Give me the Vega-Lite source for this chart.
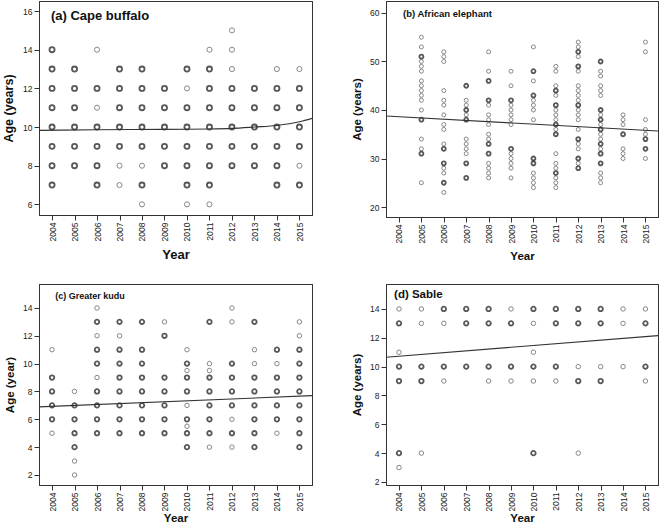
{
  "$schema": "https://vega.github.io/schema/vega-lite/v6.json",
  "padding": {"left": 2, "top": 0, "right": 0, "bottom": 0},
  "background": "white",
  "datasets": {
    "buffalo": [
      {"year": 2004, "age": 14, "n": 2}, {"year": 2004, "age": 13, "n": 2}, {"year": 2004, "age": 12, "n": 2}, {"year": 2004, "age": 11, "n": 2}, {"year": 2004, "age": 10, "n": 2}, {"year": 2004, "age": 9, "n": 2}, {"year": 2004, "age": 8, "n": 2}, {"year": 2004, "age": 7, "n": 2},
      {"year": 2005, "age": 13, "n": 2}, {"year": 2005, "age": 12, "n": 2}, {"year": 2005, "age": 11, "n": 2}, {"year": 2005, "age": 10, "n": 2}, {"year": 2005, "age": 9, "n": 2}, {"year": 2005, "age": 8, "n": 2},
      {"year": 2006, "age": 14, "n": 1}, {"year": 2006, "age": 12, "n": 2}, {"year": 2006, "age": 11, "n": 1}, {"year": 2006, "age": 10, "n": 2}, {"year": 2006, "age": 9, "n": 2}, {"year": 2006, "age": 8, "n": 2}, {"year": 2006, "age": 7, "n": 2},
      {"year": 2007, "age": 13, "n": 2}, {"year": 2007, "age": 12, "n": 2}, {"year": 2007, "age": 11, "n": 2}, {"year": 2007, "age": 10, "n": 2}, {"year": 2007, "age": 9, "n": 2}, {"year": 2007, "age": 8, "n": 1}, {"year": 2007, "age": 7, "n": 1},
      {"year": 2008, "age": 13, "n": 2}, {"year": 2008, "age": 12, "n": 2}, {"year": 2008, "age": 11, "n": 2}, {"year": 2008, "age": 10, "n": 2}, {"year": 2008, "age": 9, "n": 2}, {"year": 2008, "age": 8, "n": 1}, {"year": 2008, "age": 7, "n": 2}, {"year": 2008, "age": 6, "n": 1},
      {"year": 2009, "age": 12, "n": 2}, {"year": 2009, "age": 11, "n": 2}, {"year": 2009, "age": 10, "n": 2}, {"year": 2009, "age": 9, "n": 2}, {"year": 2009, "age": 8, "n": 2},
      {"year": 2010, "age": 13, "n": 2}, {"year": 2010, "age": 12, "n": 1}, {"year": 2010, "age": 11, "n": 2}, {"year": 2010, "age": 10, "n": 2}, {"year": 2010, "age": 9, "n": 2}, {"year": 2010, "age": 8, "n": 2}, {"year": 2010, "age": 7, "n": 2}, {"year": 2010, "age": 6, "n": 1},
      {"year": 2011, "age": 14, "n": 1}, {"year": 2011, "age": 13, "n": 2}, {"year": 2011, "age": 12, "n": 2}, {"year": 2011, "age": 11, "n": 2}, {"year": 2011, "age": 10, "n": 2}, {"year": 2011, "age": 9, "n": 2}, {"year": 2011, "age": 8, "n": 2}, {"year": 2011, "age": 7, "n": 2}, {"year": 2011, "age": 6, "n": 1},
      {"year": 2012, "age": 15, "n": 1}, {"year": 2012, "age": 14, "n": 1}, {"year": 2012, "age": 13, "n": 1}, {"year": 2012, "age": 12, "n": 2}, {"year": 2012, "age": 11, "n": 2}, {"year": 2012, "age": 10, "n": 2}, {"year": 2012, "age": 9, "n": 2}, {"year": 2012, "age": 8, "n": 2},
      {"year": 2013, "age": 12, "n": 2}, {"year": 2013, "age": 11, "n": 2}, {"year": 2013, "age": 10, "n": 2}, {"year": 2013, "age": 9, "n": 2}, {"year": 2013, "age": 8, "n": 2},
      {"year": 2014, "age": 13, "n": 1}, {"year": 2014, "age": 12, "n": 2}, {"year": 2014, "age": 11, "n": 2}, {"year": 2014, "age": 10, "n": 2}, {"year": 2014, "age": 9, "n": 2}, {"year": 2014, "age": 8, "n": 2}, {"year": 2014, "age": 7, "n": 2},
      {"year": 2015, "age": 13, "n": 1}, {"year": 2015, "age": 12, "n": 2}, {"year": 2015, "age": 11, "n": 2}, {"year": 2015, "age": 10, "n": 2}, {"year": 2015, "age": 9, "n": 2}, {"year": 2015, "age": 8, "n": 1}, {"year": 2015, "age": 7, "n": 2}
    ],
    "buffalo_fit": [
      {"year": 2003.42, "age": 9.83}, {"year": 2006, "age": 9.86}, {"year": 2009, "age": 9.88}, {"year": 2011, "age": 9.9},
      {"year": 2012, "age": 9.93}, {"year": 2013, "age": 10.0}, {"year": 2014, "age": 10.08}, {"year": 2015, "age": 10.27}, {"year": 2015.56, "age": 10.45}
    ],
    "elephant": [
      {"year": 2005, "age": 55, "n": 1}, {"year": 2005, "age": 53, "n": 1}, {"year": 2005, "age": 51, "n": 2}, {"year": 2005, "age": 50, "n": 1}, {"year": 2005, "age": 49, "n": 1}, {"year": 2005, "age": 48, "n": 1}, {"year": 2005, "age": 46, "n": 1}, {"year": 2005, "age": 45, "n": 1}, {"year": 2005, "age": 44, "n": 1}, {"year": 2005, "age": 43, "n": 1}, {"year": 2005, "age": 42, "n": 1}, {"year": 2005, "age": 40, "n": 1}, {"year": 2005, "age": 38, "n": 2}, {"year": 2005, "age": 34, "n": 1}, {"year": 2005, "age": 32, "n": 1}, {"year": 2005, "age": 31, "n": 2}, {"year": 2005, "age": 25, "n": 1},
      {"year": 2006, "age": 52, "n": 1}, {"year": 2006, "age": 51, "n": 1}, {"year": 2006, "age": 50, "n": 1}, {"year": 2006, "age": 44, "n": 1}, {"year": 2006, "age": 42, "n": 1}, {"year": 2006, "age": 41, "n": 1}, {"year": 2006, "age": 39, "n": 1}, {"year": 2006, "age": 37, "n": 1}, {"year": 2006, "age": 36, "n": 1}, {"year": 2006, "age": 33, "n": 1}, {"year": 2006, "age": 32, "n": 2}, {"year": 2006, "age": 29, "n": 2}, {"year": 2006, "age": 28, "n": 1}, {"year": 2006, "age": 27, "n": 1}, {"year": 2006, "age": 25, "n": 2}, {"year": 2006, "age": 23, "n": 1},
      {"year": 2007, "age": 45, "n": 2}, {"year": 2007, "age": 42, "n": 1}, {"year": 2007, "age": 41, "n": 1}, {"year": 2007, "age": 40, "n": 2}, {"year": 2007, "age": 39, "n": 1}, {"year": 2007, "age": 38, "n": 2}, {"year": 2007, "age": 34, "n": 1}, {"year": 2007, "age": 33, "n": 1}, {"year": 2007, "age": 32, "n": 1}, {"year": 2007, "age": 31, "n": 1}, {"year": 2007, "age": 29, "n": 2}, {"year": 2007, "age": 26, "n": 2},
      {"year": 2008, "age": 52, "n": 1}, {"year": 2008, "age": 48, "n": 1}, {"year": 2008, "age": 46, "n": 2}, {"year": 2008, "age": 42, "n": 2}, {"year": 2008, "age": 41, "n": 1}, {"year": 2008, "age": 39, "n": 1}, {"year": 2008, "age": 38, "n": 1}, {"year": 2008, "age": 37, "n": 1}, {"year": 2008, "age": 35, "n": 1}, {"year": 2008, "age": 34, "n": 1}, {"year": 2008, "age": 33, "n": 2}, {"year": 2008, "age": 31, "n": 2}, {"year": 2008, "age": 29, "n": 1}, {"year": 2008, "age": 28, "n": 1}, {"year": 2008, "age": 27, "n": 1}, {"year": 2008, "age": 26, "n": 1},
      {"year": 2009, "age": 48, "n": 1}, {"year": 2009, "age": 45, "n": 1}, {"year": 2009, "age": 42, "n": 2}, {"year": 2009, "age": 41, "n": 1}, {"year": 2009, "age": 40, "n": 1}, {"year": 2009, "age": 39, "n": 1}, {"year": 2009, "age": 38, "n": 1}, {"year": 2009, "age": 37, "n": 1}, {"year": 2009, "age": 32, "n": 2}, {"year": 2009, "age": 31, "n": 1}, {"year": 2009, "age": 30, "n": 1}, {"year": 2009, "age": 29, "n": 1}, {"year": 2009, "age": 28, "n": 1}, {"year": 2009, "age": 26, "n": 1},
      {"year": 2010, "age": 53, "n": 1}, {"year": 2010, "age": 48, "n": 2}, {"year": 2010, "age": 46, "n": 1}, {"year": 2010, "age": 43, "n": 2}, {"year": 2010, "age": 42, "n": 1}, {"year": 2010, "age": 41, "n": 1}, {"year": 2010, "age": 40, "n": 1}, {"year": 2010, "age": 38, "n": 1}, {"year": 2010, "age": 30, "n": 2}, {"year": 2010, "age": 29, "n": 2}, {"year": 2010, "age": 27, "n": 1}, {"year": 2010, "age": 26, "n": 1}, {"year": 2010, "age": 25, "n": 1}, {"year": 2010, "age": 24, "n": 1},
      {"year": 2011, "age": 49, "n": 1}, {"year": 2011, "age": 48, "n": 1}, {"year": 2011, "age": 45, "n": 1}, {"year": 2011, "age": 44, "n": 2}, {"year": 2011, "age": 43, "n": 1}, {"year": 2011, "age": 41, "n": 2}, {"year": 2011, "age": 40, "n": 1}, {"year": 2011, "age": 39, "n": 1}, {"year": 2011, "age": 38, "n": 1}, {"year": 2011, "age": 37, "n": 2}, {"year": 2011, "age": 36, "n": 1}, {"year": 2011, "age": 35, "n": 2}, {"year": 2011, "age": 31, "n": 1}, {"year": 2011, "age": 29, "n": 1}, {"year": 2011, "age": 28, "n": 1}, {"year": 2011, "age": 27, "n": 2}, {"year": 2011, "age": 26, "n": 1}, {"year": 2011, "age": 25, "n": 1}, {"year": 2011, "age": 24, "n": 1},
      {"year": 2012, "age": 54, "n": 1}, {"year": 2012, "age": 53, "n": 1}, {"year": 2012, "age": 52, "n": 2}, {"year": 2012, "age": 51, "n": 1}, {"year": 2012, "age": 49, "n": 2}, {"year": 2012, "age": 48, "n": 1}, {"year": 2012, "age": 45, "n": 1}, {"year": 2012, "age": 44, "n": 1}, {"year": 2012, "age": 43, "n": 1}, {"year": 2012, "age": 42, "n": 1}, {"year": 2012, "age": 41, "n": 2}, {"year": 2012, "age": 40, "n": 1}, {"year": 2012, "age": 39, "n": 1}, {"year": 2012, "age": 38, "n": 1}, {"year": 2012, "age": 36, "n": 1}, {"year": 2012, "age": 34, "n": 2}, {"year": 2012, "age": 33, "n": 1}, {"year": 2012, "age": 32, "n": 1}, {"year": 2012, "age": 30, "n": 2}, {"year": 2012, "age": 29, "n": 1}, {"year": 2012, "age": 28, "n": 2},
      {"year": 2013, "age": 50, "n": 2}, {"year": 2013, "age": 48, "n": 1}, {"year": 2013, "age": 47, "n": 1}, {"year": 2013, "age": 45, "n": 1}, {"year": 2013, "age": 44, "n": 1}, {"year": 2013, "age": 43, "n": 1}, {"year": 2013, "age": 40, "n": 2}, {"year": 2013, "age": 39, "n": 1}, {"year": 2013, "age": 38, "n": 2}, {"year": 2013, "age": 37, "n": 1}, {"year": 2013, "age": 36, "n": 2}, {"year": 2013, "age": 35, "n": 1}, {"year": 2013, "age": 34, "n": 1}, {"year": 2013, "age": 33, "n": 2}, {"year": 2013, "age": 32, "n": 1}, {"year": 2013, "age": 31, "n": 2}, {"year": 2013, "age": 29, "n": 2}, {"year": 2013, "age": 27, "n": 1}, {"year": 2013, "age": 26, "n": 1}, {"year": 2013, "age": 25, "n": 1},
      {"year": 2014, "age": 39, "n": 1}, {"year": 2014, "age": 38, "n": 1}, {"year": 2014, "age": 37, "n": 1}, {"year": 2014, "age": 35, "n": 2}, {"year": 2014, "age": 32, "n": 1}, {"year": 2014, "age": 31, "n": 1}, {"year": 2014, "age": 30, "n": 1},
      {"year": 2015, "age": 54, "n": 1}, {"year": 2015, "age": 52, "n": 1}, {"year": 2015, "age": 38, "n": 1}, {"year": 2015, "age": 36, "n": 1}, {"year": 2015, "age": 35, "n": 1}, {"year": 2015, "age": 34, "n": 2}, {"year": 2015, "age": 32, "n": 2}, {"year": 2015, "age": 30, "n": 1}
    ],
    "elephant_fit": [
      {"year": 2003.42, "age": 38.76}, {"year": 2015.56, "age": 35.67}
    ],
    "kudu": [
      {"year": 2004, "age": 11, "n": 1}, {"year": 2004, "age": 9, "n": 2}, {"year": 2004, "age": 8, "n": 2}, {"year": 2004, "age": 7, "n": 2}, {"year": 2004, "age": 6, "n": 2}, {"year": 2004, "age": 5, "n": 1},
      {"year": 2005, "age": 8, "n": 1}, {"year": 2005, "age": 7, "n": 2}, {"year": 2005, "age": 6, "n": 2}, {"year": 2005, "age": 5, "n": 2}, {"year": 2005, "age": 4, "n": 2}, {"year": 2005, "age": 3, "n": 1}, {"year": 2005, "age": 2, "n": 1},
      {"year": 2006, "age": 14, "n": 1}, {"year": 2006, "age": 13, "n": 2}, {"year": 2006, "age": 12, "n": 1}, {"year": 2006, "age": 11, "n": 2}, {"year": 2006, "age": 10, "n": 2}, {"year": 2006, "age": 9, "n": 1}, {"year": 2006, "age": 8, "n": 2}, {"year": 2006, "age": 7, "n": 2}, {"year": 2006, "age": 6, "n": 2}, {"year": 2006, "age": 5, "n": 2},
      {"year": 2007, "age": 13, "n": 2}, {"year": 2007, "age": 12, "n": 1}, {"year": 2007, "age": 11, "n": 2}, {"year": 2007, "age": 10, "n": 2}, {"year": 2007, "age": 9, "n": 2}, {"year": 2007, "age": 8, "n": 2}, {"year": 2007, "age": 7, "n": 2}, {"year": 2007, "age": 6, "n": 2}, {"year": 2007, "age": 5, "n": 2},
      {"year": 2008, "age": 13, "n": 2}, {"year": 2008, "age": 11, "n": 2}, {"year": 2008, "age": 10, "n": 2}, {"year": 2008, "age": 9, "n": 2}, {"year": 2008, "age": 8, "n": 2}, {"year": 2008, "age": 7, "n": 2}, {"year": 2008, "age": 6, "n": 2}, {"year": 2008, "age": 5, "n": 2},
      {"year": 2009, "age": 13, "n": 1}, {"year": 2009, "age": 12, "n": 2}, {"year": 2009, "age": 9, "n": 2}, {"year": 2009, "age": 8, "n": 2}, {"year": 2009, "age": 7, "n": 2}, {"year": 2009, "age": 6, "n": 2}, {"year": 2009, "age": 5, "n": 2},
      {"year": 2010, "age": 11, "n": 1}, {"year": 2010, "age": 10, "n": 2}, {"year": 2010, "age": 9.5, "n": 1}, {"year": 2010, "age": 9, "n": 2}, {"year": 2010, "age": 8, "n": 2}, {"year": 2010, "age": 7, "n": 1}, {"year": 2010, "age": 6, "n": 2}, {"year": 2010, "age": 5.5, "n": 1}, {"year": 2010, "age": 5, "n": 2}, {"year": 2010, "age": 4, "n": 2},
      {"year": 2011, "age": 13, "n": 2}, {"year": 2011, "age": 10, "n": 1}, {"year": 2011, "age": 9.5, "n": 1}, {"year": 2011, "age": 9, "n": 2}, {"year": 2011, "age": 8, "n": 2}, {"year": 2011, "age": 7, "n": 2}, {"year": 2011, "age": 6, "n": 2}, {"year": 2011, "age": 5, "n": 2}, {"year": 2011, "age": 4, "n": 1},
      {"year": 2012, "age": 14, "n": 1}, {"year": 2012, "age": 13, "n": 1}, {"year": 2012, "age": 10, "n": 2}, {"year": 2012, "age": 9, "n": 2}, {"year": 2012, "age": 8, "n": 2}, {"year": 2012, "age": 7, "n": 2}, {"year": 2012, "age": 6, "n": 1}, {"year": 2012, "age": 5, "n": 2}, {"year": 2012, "age": 4, "n": 1},
      {"year": 2013, "age": 13, "n": 2}, {"year": 2013, "age": 11, "n": 1}, {"year": 2013, "age": 10, "n": 1}, {"year": 2013, "age": 9, "n": 2}, {"year": 2013, "age": 8, "n": 2}, {"year": 2013, "age": 7, "n": 2}, {"year": 2013, "age": 6, "n": 2}, {"year": 2013, "age": 5, "n": 2}, {"year": 2013, "age": 4, "n": 2},
      {"year": 2014, "age": 11, "n": 2}, {"year": 2014, "age": 10, "n": 1}, {"year": 2014, "age": 9, "n": 2}, {"year": 2014, "age": 8, "n": 2}, {"year": 2014, "age": 7, "n": 2}, {"year": 2014, "age": 6, "n": 2}, {"year": 2014, "age": 5, "n": 1},
      {"year": 2015, "age": 13, "n": 1}, {"year": 2015, "age": 12, "n": 1}, {"year": 2015, "age": 11, "n": 2}, {"year": 2015, "age": 10, "n": 2}, {"year": 2015, "age": 9, "n": 2}, {"year": 2015, "age": 8, "n": 2}, {"year": 2015, "age": 7, "n": 2}, {"year": 2015, "age": 6, "n": 2}, {"year": 2015, "age": 5, "n": 2}, {"year": 2015, "age": 4, "n": 2}
    ],
    "kudu_fit": [
      {"year": 2003.42, "age": 6.89}, {"year": 2015.56, "age": 7.7}
    ],
    "sable": [
      {"year": 2004, "age": 14, "n": 1}, {"year": 2004, "age": 13, "n": 2}, {"year": 2004, "age": 11, "n": 1}, {"year": 2004, "age": 10, "n": 2}, {"year": 2004, "age": 9, "n": 2}, {"year": 2004, "age": 4, "n": 2}, {"year": 2004, "age": 3, "n": 1},
      {"year": 2005, "age": 14, "n": 1}, {"year": 2005, "age": 13, "n": 1}, {"year": 2005, "age": 10, "n": 2}, {"year": 2005, "age": 9, "n": 2}, {"year": 2005, "age": 4, "n": 1},
      {"year": 2006, "age": 14, "n": 2}, {"year": 2006, "age": 13, "n": 1}, {"year": 2006, "age": 10, "n": 2}, {"year": 2006, "age": 9, "n": 1},
      {"year": 2007, "age": 14, "n": 2}, {"year": 2007, "age": 13, "n": 2}, {"year": 2007, "age": 10, "n": 2},
      {"year": 2008, "age": 14, "n": 2}, {"year": 2008, "age": 13, "n": 2}, {"year": 2008, "age": 10, "n": 2}, {"year": 2008, "age": 9, "n": 1},
      {"year": 2009, "age": 14, "n": 1}, {"year": 2009, "age": 13, "n": 2}, {"year": 2009, "age": 10, "n": 2}, {"year": 2009, "age": 9, "n": 1},
      {"year": 2010, "age": 14, "n": 2}, {"year": 2010, "age": 13, "n": 1}, {"year": 2010, "age": 11, "n": 1}, {"year": 2010, "age": 10, "n": 2}, {"year": 2010, "age": 9, "n": 1}, {"year": 2010, "age": 4, "n": 2},
      {"year": 2011, "age": 14, "n": 2}, {"year": 2011, "age": 13, "n": 2}, {"year": 2011, "age": 10, "n": 2}, {"year": 2011, "age": 9, "n": 1},
      {"year": 2012, "age": 14, "n": 2}, {"year": 2012, "age": 13, "n": 2}, {"year": 2012, "age": 10, "n": 1}, {"year": 2012, "age": 9, "n": 2}, {"year": 2012, "age": 4, "n": 1},
      {"year": 2013, "age": 14, "n": 2}, {"year": 2013, "age": 13, "n": 2}, {"year": 2013, "age": 10, "n": 1}, {"year": 2013, "age": 9, "n": 2},
      {"year": 2014, "age": 14, "n": 1}, {"year": 2014, "age": 13, "n": 1}, {"year": 2014, "age": 10, "n": 1},
      {"year": 2015, "age": 14, "n": 1}, {"year": 2015, "age": 13, "n": 2}, {"year": 2015, "age": 10, "n": 2}, {"year": 2015, "age": 9, "n": 1}
    ],
    "sable_fit": [
      {"year": 2003.42, "age": 10.65}, {"year": 2015.56, "age": 12.15}
    ]
  },
  "columns": 2,
  "spacing": {"row": 20, "column": 38},
  "concat": [
    {
      "width": 273,
      "height": 214,
      "resolve": {"axis": {"x": "independent", "y": "independent"}},
      "layer": [
        {
          "data": {"name": "buffalo"},
          "mark": {"type": "point", "shape": "circle", "filled": false, "size": 26},
          "encoding": {
            "x": {"field": "year", "type": "quantitative", "scale": {"domain": [2003.42, 2015.56], "nice": false, "zero": false}, "axis": {"title": "Year", "values": [2004, 2005, 2006, 2007, 2008, 2009, 2010, 2011, 2012, 2013, 2014, 2015], "format": "d", "titleFontSize": 13, "titlePadding": 8}},
            "y": {"field": "age", "type": "quantitative", "scale": {"domain": [5.45, 16.52], "nice": false, "zero": false}, "axis": {"title": "Age (years)", "values": [6, 8, 10, 12, 14, 16], "titleFontSize": 12.5}},
            "color": {"field": "n", "type": "quantitative", "scale": {"domain": [1, 2], "range": ["#555555", "#111111"], "clamp": true}, "legend": null},
            "strokeWidth": {"field": "n", "type": "quantitative", "scale": {"domain": [1, 2], "range": [1, 1.8], "clamp": true}, "legend": null}
          }
        },
        {
          "data": {"name": "buffalo_fit"},
          "mark": {"type": "line", "color": "#333333", "strokeWidth": 1.1, "interpolate": "monotone", "clip": true},
          "encoding": {
            "x": {"field": "year", "type": "quantitative", "axis": {"orient": "top", "labels": false, "ticks": false, "title": null, "minExtent": 0}},
            "y": {"field": "age", "type": "quantitative", "axis": {"orient": "right", "labels": false, "ticks": false, "title": null, "minExtent": 0}}
          }
        },
        {
          "data": {"values": [{"label": "(a) Cape buffalo"}]},
          "mark": {"type": "text", "align": "left", "baseline": "middle", "fontWeight": "bold", "fontSize": 13, "color": "#111111"},
          "encoding": {
            "text": {"field": "label"},
            "x": {"datum": 2003.95, "type": "quantitative", "axis": null},
            "y": {"datum": 15.74, "type": "quantitative", "axis": null}
          }
        }
      ]
    },
    {
      "width": 272,
      "height": 216,
      "resolve": {"axis": {"x": "independent", "y": "independent"}},
      "layer": [
        {
          "data": {"name": "elephant"},
          "mark": {"type": "point", "shape": "circle", "filled": false, "size": 16},
          "encoding": {
            "x": {"field": "year", "type": "quantitative", "scale": {"domain": [2003.42, 2015.56], "nice": false, "zero": false}, "axis": {"title": "Year", "values": [2004, 2005, 2006, 2007, 2008, 2009, 2010, 2011, 2012, 2013, 2014, 2015], "format": "d", "titlePadding": 8}},
            "y": {"field": "age", "type": "quantitative", "scale": {"domain": [17.94, 62.47], "nice": false, "zero": false}, "axis": {"title": "Age (years)", "values": [20, 30, 40, 50, 60]}},
            "color": {"field": "n", "type": "quantitative", "scale": {"domain": [1, 2], "range": ["#555555", "#111111"], "clamp": true}, "legend": null},
            "strokeWidth": {"field": "n", "type": "quantitative", "scale": {"domain": [1, 2], "range": [1, 1.8], "clamp": true}, "legend": null}
          }
        },
        {
          "data": {"name": "elephant_fit"},
          "mark": {"type": "line", "color": "#333333", "strokeWidth": 1.1, "clip": true},
          "encoding": {
            "x": {"field": "year", "type": "quantitative", "axis": {"orient": "top", "labels": false, "ticks": false, "title": null, "minExtent": 0}},
            "y": {"field": "age", "type": "quantitative", "axis": {"orient": "right", "labels": false, "ticks": false, "title": null, "minExtent": 0}}
          }
        },
        {
          "data": {"values": [{"label": "(b) African elephant"}]},
          "mark": {"type": "text", "align": "left", "baseline": "middle", "fontWeight": "bold", "fontSize": 9.5, "color": "#111111"},
          "encoding": {
            "text": {"field": "label"},
            "x": {"datum": 2004.18, "type": "quantitative", "axis": null},
            "y": {"datum": 59.8, "type": "quantitative", "axis": null}
          }
        }
      ]
    },
    {
      "width": 273,
      "height": 201,
      "resolve": {"axis": {"x": "independent", "y": "independent"}},
      "layer": [
        {
          "data": {"name": "kudu"},
          "mark": {"type": "point", "shape": "circle", "filled": false, "size": 20},
          "encoding": {
            "x": {"field": "year", "type": "quantitative", "scale": {"domain": [2003.42, 2015.56], "nice": false, "zero": false}, "axis": {"title": "Year", "values": [2004, 2005, 2006, 2007, 2008, 2009, 2010, 2011, 2012, 2013, 2014, 2015], "format": "d", "titlePadding": 2}},
            "y": {"field": "age", "type": "quantitative", "scale": {"domain": [1.28, 15.72], "nice": false, "zero": false}, "axis": {"title": "Age (year)", "values": [2, 4, 6, 8, 10, 12, 14]}},
            "color": {"field": "n", "type": "quantitative", "scale": {"domain": [1, 2], "range": ["#555555", "#111111"], "clamp": true}, "legend": null},
            "strokeWidth": {"field": "n", "type": "quantitative", "scale": {"domain": [1, 2], "range": [1, 1.8], "clamp": true}, "legend": null}
          }
        },
        {
          "data": {"name": "kudu_fit"},
          "mark": {"type": "line", "color": "#333333", "strokeWidth": 1.1, "clip": true},
          "encoding": {
            "x": {"field": "year", "type": "quantitative", "axis": {"orient": "top", "labels": false, "ticks": false, "title": null, "minExtent": 0}},
            "y": {"field": "age", "type": "quantitative", "axis": {"orient": "right", "labels": false, "ticks": false, "title": null, "minExtent": 0}}
          }
        },
        {
          "data": {"values": [{"label": "(c) Greater kudu"}]},
          "mark": {"type": "text", "align": "left", "baseline": "middle", "fontWeight": "bold", "fontSize": 9, "color": "#111111"},
          "encoding": {
            "text": {"field": "label"},
            "x": {"datum": 2004.14, "type": "quantitative", "axis": null},
            "y": {"datum": 14.86, "type": "quantitative", "axis": null}
          }
        }
      ]
    },
    {
      "width": 272,
      "height": 201,
      "resolve": {"axis": {"x": "independent", "y": "independent"}},
      "layer": [
        {
          "data": {"name": "sable"},
          "mark": {"type": "point", "shape": "circle", "filled": false, "size": 20},
          "encoding": {
            "x": {"field": "year", "type": "quantitative", "scale": {"domain": [2003.42, 2015.56], "nice": false, "zero": false}, "axis": {"title": "Year", "values": [2004, 2005, 2006, 2007, 2008, 2009, 2010, 2011, 2012, 2013, 2014, 2015], "format": "d", "titlePadding": 2}},
            "y": {"field": "age", "type": "quantitative", "scale": {"domain": [1.79, 15.73], "nice": false, "zero": false}, "axis": {"title": "Age (years)", "values": [2, 4, 6, 8, 10, 12, 14]}},
            "color": {"field": "n", "type": "quantitative", "scale": {"domain": [1, 2], "range": ["#555555", "#111111"], "clamp": true}, "legend": null},
            "strokeWidth": {"field": "n", "type": "quantitative", "scale": {"domain": [1, 2], "range": [1, 1.8], "clamp": true}, "legend": null}
          }
        },
        {
          "data": {"name": "sable_fit"},
          "mark": {"type": "line", "color": "#333333", "strokeWidth": 1.1, "clip": true},
          "encoding": {
            "x": {"field": "year", "type": "quantitative", "axis": {"orient": "top", "labels": false, "ticks": false, "title": null, "minExtent": 0}},
            "y": {"field": "age", "type": "quantitative", "axis": {"orient": "right", "labels": false, "ticks": false, "title": null, "minExtent": 0}}
          }
        },
        {
          "data": {"values": [{"label": "(d) Sable"}]},
          "mark": {"type": "text", "align": "left", "baseline": "middle", "fontWeight": "bold", "fontSize": 11.5, "color": "#111111"},
          "encoding": {
            "text": {"field": "label"},
            "x": {"datum": 2003.78, "type": "quantitative", "axis": null},
            "y": {"datum": 14.97, "type": "quantitative", "axis": null}
          }
        }
      ]
    }
  ],
  "config": {
    "font": "Liberation Sans",
    "view": {"stroke": "#444444", "strokeWidth": 1},
    "text": {"font": "Liberation Sans"},
    "axis": {
      "grid": false,
      "domainColor": "#333333",
      "tickColor": "#333333",
      "tickSize": 5,
      "labelFont": "Liberation Sans",
      "labelFontSize": 8.5,
      "labelColor": "#222222",
      "titleFont": "Liberation Sans",
      "titleFontWeight": "bold",
      "titleFontSize": 11.5,
      "titleColor": "#111111"
    },
    "axisX": {"labelAngle": 270, "labelFlush": false},
    "axisY": {"titlePadding": 7}
  }
}
